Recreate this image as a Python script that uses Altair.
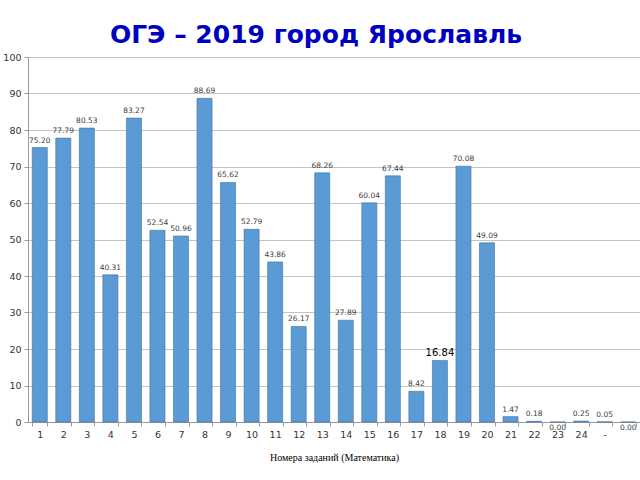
import altair as alt
import pandas as pd

categories = [str(i) for i in range(1, 25)] + ["-", " "]
values = [75.20, 77.79, 80.53, 40.31, 83.27, 52.54, 50.96, 88.69, 65.62, 52.79,
          43.86, 26.17, 68.26, 27.89, 60.04, 67.44, 8.42, 16.84, 70.08, 49.09,
          1.47, 0.18, 0.00, 0.25, 0.05, 0.00]
y_ticks = list(range(0, 101, 10))

df = pd.DataFrame({"task": categories, "pct": values})

x_enc = alt.X("task:N", sort=categories, scale=alt.Scale(paddingInner=0.36, paddingOuter=0.18),
              axis=alt.Axis(title="Номера заданий (Математика)", labelAngle=0, tickBand="extent",
                            labelFont="DejaVu Sans", labelFontSize=9.5, labelColor="#333333",
                            tickSize=4, tickColor="#9a9a9a", domainColor="#9a9a9a", labelPadding=3,
                            titleFont="Liberation Serif", titleFontSize=10, titleFontWeight="normal",
                            titleColor="#000000", titlePadding=14))
y_enc = alt.Y("pct:Q", scale=alt.Scale(domain=[0, 100], nice=False),
              axis=alt.Axis(title=None, values=y_ticks, format="d", labelOverlap=False,
                            labelFont="DejaVu Sans", labelFontSize=9.5, labelColor="#333333",
                            tickSize=4, tickColor="#9a9a9a", domainColor="#9a9a9a",
                            gridColor="#c4c4c4", gridWidth=1, labelPadding=3))

base = alt.Chart(df)

bars = base.mark_bar(color="#5B9BD5", stroke="#41719C", strokeWidth=0.6).encode(x=x_enc, y=y_enc)

labels = base.transform_filter("datum.pct > 0 && datum.task != '18'").mark_text(
    baseline="bottom", dy=-3, font="DejaVu Sans", fontSize=7.5, color="#404040"
).encode(x=x_enc, y=y_enc, text=alt.Text("pct:Q", format=".2f"))

label18 = base.transform_filter("datum.task == '18'").mark_text(
    baseline="bottom", dy=-3, font="DejaVu Sans", fontSize=10, color="#000000"
).encode(x=x_enc, y=y_enc, text=alt.Text("pct:Q", format=".2f"))

labels0 = base.transform_filter("datum.pct == 0").mark_text(
    baseline="middle", dy=6, font="DejaVu Sans", fontSize=7.5, color="#404040"
).encode(x=x_enc, y=y_enc, text=alt.Text("pct:Q", format=".2f"))

chart = alt.layer(bars, labels, label18, labels0).properties(
    width=612, height=365,
    title=alt.TitleParams("ОГЭ – 2019 город Ярославль", font="DejaVu Sans", fontSize=25,
                          fontWeight="bold", color="#0000C0", anchor="middle", dx=-18, offset=4),
    autosize=alt.AutoSizeParams(type="none"),
    padding={"left": 28, "top": 57, "right": 0, "bottom": 58},
).configure_view(stroke=None).configure(background="white")

chart.save("out.html", embed_options={"renderer": "svg", "actions": False})
